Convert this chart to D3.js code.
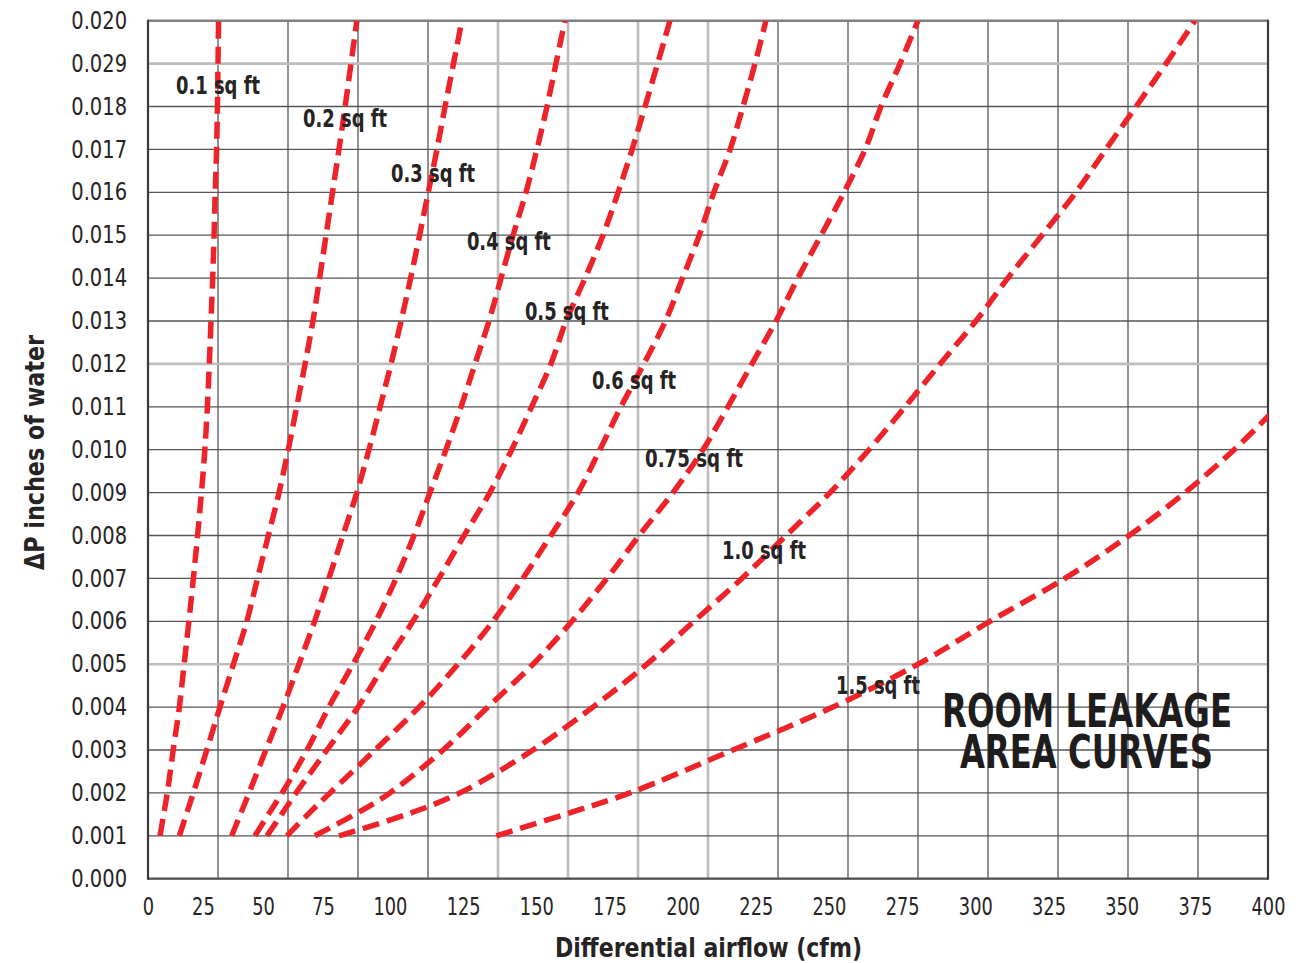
<!DOCTYPE html>
<html>
<head>
<meta charset="utf-8">
<script src="https://cdn.jsdelivr.net/npm/d3@7"></script>
<style>
  html, body { margin: 0; padding: 0; background: #ffffff; }
  svg { display: block; }
  .narrow { font-family: "Liberation Sans Narrow", "Arial Narrow", "DejaVu Sans Condensed", "Roboto", sans-serif; font-stretch: condensed; }
</style>
</head>
<body>
<svg id="chart" width="1307" height="963"></svg>
<script>
// ---------------- data ----------------
// pressure differential levels (inches of water)
const dpLevels = [0.001, 0.0015, 0.002, 0.003, 0.004, 0.005, 0.006, 0.007, 0.008, 0.009, 0.010,
                  0.011, 0.012, 0.013, 0.014, 0.015, 0.016, 0.017, 0.018, 0.019, 0.020];

const areaLabels = ["0.1 sq ft", "0.2 sq ft", "0.3 sq ft", "0.4 sq ft", "0.5 sq ft",
                    "0.6 sq ft", "0.75 sq ft", "1.0 sq ft", "1.5 sq ft"];

// differential airflow (cfm) for each leakage area at each dpLevel
const flow010 = [4.3, 5.6, 6.9, 9.0, 11.2, 12.9, 14.6, 16.2, 17.7, 19.1, 20.3, 21.2, 21.9, 22.5, 23.1, 23.6, 24.0, 24.5, 24.8, 25.0, 25.2];
const flow020 = [11.2, 13.7, 16.2, 21.0, 25.7, 30.5, 35.3, 39.1, 43.0, 46.8, 50.1, 53.1, 56.1, 58.9, 61.3, 63.6, 65.9, 68.2, 70.4, 72.5, 74.6];
const flow030 = [29.9, 33.0, 36.1, 42.1, 48.2, 53.9, 59.5, 64.6, 69.6, 74.6, 78.9, 82.9, 86.8, 90.4, 93.8, 97.0, 100.1, 103.2, 106.1, 109.1, 112.1];
const flow040 = [38.2, 43.0, 47.9, 56.8, 64.6, 73.2, 81.4, 88.6, 95.0, 100.7, 106.4, 111.8, 116.8, 121.8, 126.1, 130.4, 135.0, 138.9, 142.5, 145.7, 148.9];
const flow050 = [42.5, 47.7, 52.9, 63.9, 75.0, 84.6, 94.6, 103.9, 112.9, 122.1, 129.9, 137.0, 143.9, 149.3, 156.1, 162.5, 167.9, 172.9, 177.5, 182.0, 186.4];
const flow060 = [49.6, 57.1, 65.0, 81.1, 96.8, 110.7, 123.2, 133.9, 143.9, 153.6, 161.4, 168.9, 177.1, 184.8, 190.9, 196.9, 202.1, 207.9, 212.5, 216.8, 220.7];
const flow075 = [59.6, 73.9, 86.4, 105.4, 121.4, 137.5, 151.4, 163.9, 175.4, 187.5, 198.2, 207.1, 215.7, 224.3, 232.1, 240.4, 248.6, 256.1, 261.8, 268.6, 275.0];
const flow100 = [68.2, 92.5, 111.4, 137.5, 158.9, 178.2, 195.0, 212.1, 227.9, 243.6, 257.5, 270.4, 282.9, 295.7, 307.1, 319.3, 331.4, 342.1, 352.9, 363.6, 373.9];
const flow150 = [124.4, 148.9, 172.1, 208.9, 244.6, 275.0, 300.7, 327.5, 350.4, 370.4, 387.9, 403.4, null, null, null, null, null, null, null, null, null];

// label anchors (data units): airflow at label start, pressure at label centre
const labelFlow = [10, 55.4, 86.8, 113.9, 134.6, 158.6, 177.5, 205, 245.7];
const labelDp   = [0.0185, 0.01773, 0.01645, 0.01486, 0.01323, 0.01162, 0.0098, 0.00766, 0.00451];

// axis ticks
const xTickValues = [0, 25, 50, 75, 100, 125, 150, 175, 200, 225, 250, 275, 300, 325, 350, 375, 400];
const yTickValues = [0.000, 0.001, 0.002, 0.003, 0.004, 0.005, 0.006, 0.007, 0.008, 0.009, 0.010,
                     0.011, 0.012, 0.013, 0.014, 0.015, 0.016, 0.017, 0.018, 0.019, 0.020];
const yTickLabels = ["0.000", "0.001", "0.002", "0.003", "0.004", "0.005", "0.006", "0.007", "0.008", "0.009", "0.010",
                     "0.011", "0.012", "0.013", "0.014", "0.015", "0.016", "0.017", "0.018", "0.029", "0.020"];
const xLightGrid = [125, 150, 175, 200];
const yLightGrid = [0.005, 0.012, 0.019];

const flows = [flow010, flow020, flow030, flow040, flow050, flow060, flow075, flow100, flow150];

// ---------------- layout ----------------
const svg = d3.select("#chart");
const plotLeft = 148, plotRight = 1268, plotTop = 20.7, plotBottom = 878.7;

const x = d3.scaleLinear().domain([0, 400]).range([plotLeft, plotRight]);
const y = d3.scaleLinear().domain([0, 0.020]).range([plotBottom, plotTop]);

// The printed x tick labels sit off the grid in the original; reproduce that offset.
const xLabelPos = d3.scaleLinear()
  .domain([0, 25, 50, 75, 100, 400])
  .range([0, 19.6, 41.1, 62.5, 86.4, 400].map(v => x(v)));

const textColor = "#262324";
const isLightY = d => yLightGrid.some(v => Math.abs(v - d) < 1e-9);
// condensed glyph widths used to squeeze the fallback font to the original's condensed face
const numWidth = s => Array.from(s).reduce((w, c) => w + (c === "." ? 8.5 : 11.3), 0);

// grid
const grid = svg.append("g");
grid.selectAll("line.v").data(xTickValues).join("line").attr("class", "v")
  .attr("x1", d => x(d)).attr("x2", d => x(d))
  .attr("y1", plotTop).attr("y2", plotBottom)
  .attr("stroke", d => xLightGrid.includes(d) ? "#bdbdbd" : "#555555")
  .attr("stroke-width", d => xLightGrid.includes(d) ? 2.6 : 1.3);
grid.selectAll("line.h").data(yTickValues).join("line").attr("class", "h")
  .attr("x1", plotLeft).attr("x2", plotRight)
  .attr("y1", d => y(d)).attr("y2", d => y(d))
  .attr("stroke", d => isLightY(d) ? "#bdbdbd" : "#555555")
  .attr("stroke-width", d => isLightY(d) ? 2.6 : 1.3);

// frame
svg.append("line").attr("x1", plotLeft).attr("x2", plotRight).attr("y1", plotTop).attr("y2", plotTop)
  .attr("stroke", "#808080").attr("stroke-width", 2.6);
svg.append("line").attr("x1", plotLeft).attr("x2", plotRight).attr("y1", plotBottom).attr("y2", plotBottom)
  .attr("stroke", "#505050").attr("stroke-width", 2.2);
svg.append("line").attr("x1", plotLeft).attr("x2", plotLeft).attr("y1", plotTop - 1).attr("y2", plotBottom + 1)
  .attr("stroke", "#3a3a3a").attr("stroke-width", 2.2);
svg.append("line").attr("x1", plotRight).attr("x2", plotRight).attr("y1", plotTop - 1).attr("y2", plotBottom + 1)
  .attr("stroke", "#3a3a3a").attr("stroke-width", 2.2);

// clip for curves
svg.append("clipPath").attr("id", "plotClip").append("rect")
  .attr("x", plotLeft).attr("y", plotTop).attr("width", plotRight - plotLeft).attr("height", plotBottom - plotTop);

// curves
const line = d3.line()
  .defined(d => d.q !== null)
  .x(d => x(d.q))
  .y(d => y(d.dp))
  .curve(d3.curveCatmullRom.alpha(0.5));

svg.append("g").attr("clip-path", "url(#plotClip)")
  .selectAll("path").data(flows).join("path")
  .attr("d", f => line(dpLevels.map((dp, i) => ({ dp: dp, q: f[i] }))))
  .attr("fill", "none")
  .attr("stroke", "#ee2229")
  .attr("stroke-width", 5.5)
  .attr("stroke-dasharray", "17,8");

// curve labels
svg.append("g").selectAll("text").data(areaLabels).join("text")
  .attr("class", "narrow")
  .attr("x", (d, i) => x(labelFlow[i]))
  .attr("y", (d, i) => y(labelDp[i]))
  .attr("dy", "0.36em")
  .attr("font-size", 24)
  .attr("font-weight", "bold")
  .attr("fill", textColor)
  .attr("textLength", d => d.length === 10 ? 98 : 84)
  .attr("lengthAdjust", "spacingAndGlyphs")
  .text(d => d);

// y axis labels
const yAxis = d3.axisLeft(y).tickValues(yTickValues).tickSize(0)
  .tickFormat((d, i) => yTickLabels[i]);
const gy = svg.append("g").attr("transform", `translate(${plotLeft - 18},0)`).call(yAxis);
gy.select(".domain").remove();
gy.attr("font-family", null);
gy.selectAll("text").attr("class", "narrow").attr("font-size", 24).attr("fill", textColor)
  .attr("textLength", (d, i) => numWidth(yTickLabels[i]) + 2)
  .attr("lengthAdjust", "spacingAndGlyphs");

// x axis labels
const xAxis = d3.axisBottom(xLabelPos).tickValues(xTickValues).tickSize(0).tickFormat(d3.format("d"));
const gx = svg.append("g").attr("transform", `translate(0,${plotBottom + 16})`).call(xAxis);
gx.select(".domain").remove();
gx.attr("font-family", null);
gx.selectAll("text").attr("class", "narrow").attr("font-size", 24).attr("fill", textColor)
  .attr("textLength", d => numWidth(String(d)))
  .attr("lengthAdjust", "spacingAndGlyphs");

// axis titles
svg.append("text").attr("class", "narrow")
  .attr("x", 555).attr("y", 957)
  .attr("font-size", 27).attr("font-weight", "bold")
  .attr("textLength", 307).attr("lengthAdjust", "spacingAndGlyphs")
  .attr("fill", textColor).text("Differential airflow (cfm)");

svg.append("text").attr("class", "narrow")
  .attr("transform", `translate(44,570) rotate(-90)`)
  .attr("font-size", 27).attr("font-weight", "bold")
  .attr("textLength", 235).attr("lengthAdjust", "spacingAndGlyphs")
  .attr("fill", textColor).text("ΔP inches of water");

// chart title block (one text, two lines)
const titleLines = ["ROOM LEAKAGE", "AREA CURVES"];
const titleStart = [942, 960];
const titleWidth = [290, 253];
const title = svg.append("text")
  .attr("class", "narrow")
  .attr("font-size", 46).attr("font-weight", "bold")
  .attr("fill", "#1e1c1d");
title.selectAll("tspan").data(titleLines).join("tspan")
  .attr("x", (d, i) => titleStart[i])
  .attr("y", (d, i) => 727 + i * 41)
  .attr("textLength", (d, i) => titleWidth[i])
  .attr("lengthAdjust", "spacingAndGlyphs")
  .text(d => d);
</script>
</body>
</html>
